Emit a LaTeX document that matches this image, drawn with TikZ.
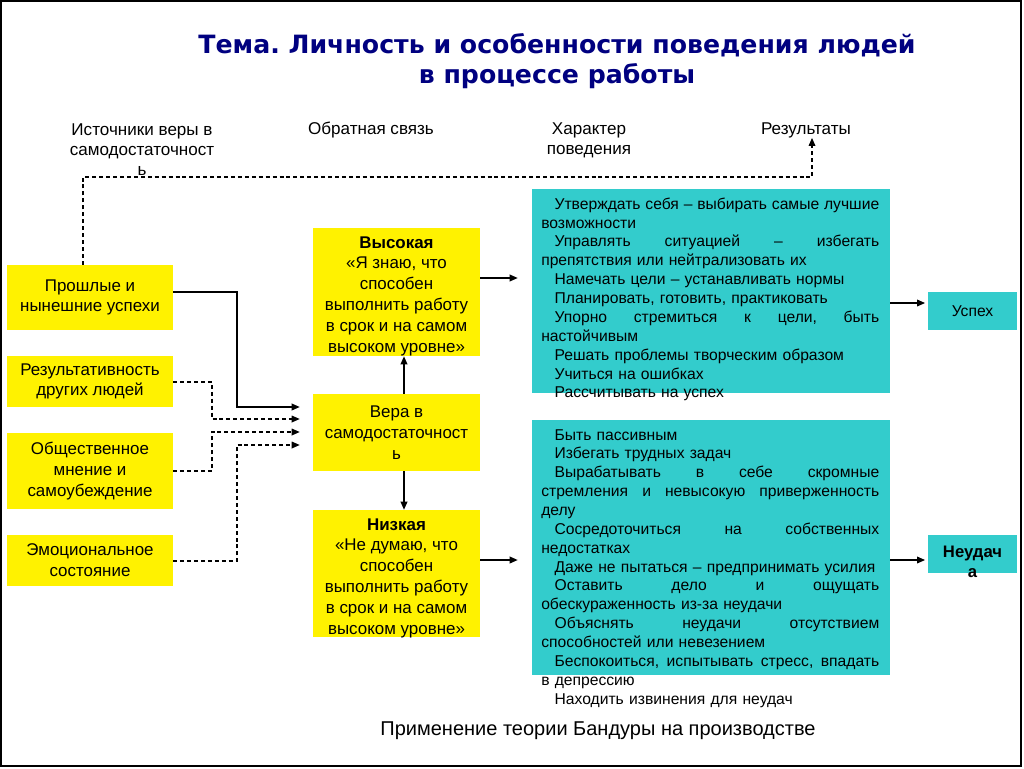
\documentclass[tikz,border=0pt]{standalone}
\usepackage{fontspec}
\setmainfont{Liberation Sans}
\newfontfamily\titlefont{DejaVu Sans}
\usetikzlibrary{arrows.meta,calc}
\definecolor{tealc}{RGB}{51,204,204}
\definecolor{navy}{RGB}{0,0,128}
\setlength\parindent{0pt}
\frenchspacing
\newlength\fw \setlength\fw{253.5pt}
\newlength\jw \setlength\jw{243.5pt}
\newcommand\jl[1]{\leavevmode\hspace*{10pt}\hbox to\jw{#1}}
\newcommand\jf[1]{\leavevmode\hbox to\fw{#1}}
\newcommand\il[1]{\leavevmode\hspace*{10pt}#1}
\begin{document}
\begin{tikzpicture}[x=0.75pt,y=-0.75pt,
  ybox/.style={fill=yellow, inner sep=0pt, align=center, font=\fontsize{12.7}{15.6}\selectfont},
  ytext/.style={inner sep=0pt, align=center, font=\fontsize{12.7}{15.6}\selectfont},
  tbox/.style={fill=tealc, inner sep=0pt, align=center, font=\fontsize{11.75}{15}\selectfont},
  ttext/.style={inner sep=0pt, text width=\fw, align=left, font=\fontsize{11.75}{14.15}\selectfont},
  arr/.style={-{Triangle[length=6pt,width=5pt]}, line width=1pt},
  dsh/.style={dash pattern=on 3pt off 2.2pt, line width=0.9pt},
  lbl/.style={align=center, font=\fontsize{12.8}{15}\selectfont, inner sep=0pt}]
\useasboundingbox (0,0) rectangle (1024,768);
\draw[line width=1.2pt] (1,1) rectangle (1021,766);

\node[font=\titlefont\bfseries\fontsize{18.9}{22.5}\selectfont, text=navy, align=center, inner sep=0pt] (title) at (557,61) {Тема. Личность и особенности поведения людей\\в процессе работы};

\node[lbl] (src) at (142,150) {Источники веры в\\самодостаточност\\ь};
\node[lbl] (fb) at (371,130) {Обратная связь};
\node[lbl] (beh) at (589,140) {Характер\\поведения};
\node[lbl] (res) at (806,130) {Результаты};

% left boxes
\node[ybox, minimum width=124.5pt, minimum height=48.75pt] (b1) at (90,297.5) {Прошлые и\\нынешние успехи};
\node[ybox, minimum width=124.5pt, minimum height=38.25pt] (b2) at (90,381.5) {Результативность\\других людей};
\node[ybox, minimum width=124.5pt, minimum height=57pt] (b3) at (90,471) {Общественное\\мнение и\\самоубеждение};
\node[ybox, minimum width=124.5pt, minimum height=38.25pt] (b4) at (90,560.5) {Эмоциональное\\состояние};

% center boxes
\node[ybox, minimum width=125.25pt, minimum height=96pt] (hi) at (396.5,292) {};
\node[ytext] (hitxt) at (396.5,296) {\textbf{Высокая}\\«Я знаю, что\\способен\\выполнить работу\\в срок и на самом\\высоком уровне»};
\node[ybox, minimum width=125.25pt, minimum height=57.75pt] (vera) at (396.5,432.5) {Вера в\\самодостаточност\\ь};
\node[ybox, minimum width=125.25pt, minimum height=95.25pt] (lo) at (396.5,573.5) {};
\node[ytext] (lotxt) at (396.5,578) {\textbf{Низкая}\\«Не думаю, что\\способен\\выполнить работу\\в срок и на самом\\высоком уровне»};

% teal boxes
\node[tbox, minimum width=268.5pt, minimum height=153pt] (t1) at (711,291) {};
\node[tbox, minimum width=268.5pt, minimum height=191.25pt] (t2) at (711,547.5) {};
\node[ttext, anchor=north west] (t1txt) at (541,197.5) {%
\jl{Утверждать\hfill себя\hfill –\hfill выбирать\hfill самые\hfill лучшие}\\
возможности\\
\jl{Управлять\hfill ситуацией\hfill –\hfill избегать}\\
препятствия или нейтрализовать их\\
\il{Намечать цели – устанавливать нормы}\\
\il{Планировать, готовить, практиковать}\\
\jl{Упорно\hfill стремиться\hfill к\hfill цели,\hfill быть}\\
настойчивым\\
\il{Решать проблемы творческим образом}\\
\il{Учиться на ошибках}\\
\il{Рассчитывать на успех}};
\node[ttext, anchor=north west] (t2txt) at (541,429) {%
\il{Быть пассивным}\\
\il{Избегать трудных задач}\\
\jl{Вырабатывать\hfill в\hfill себе\hfill скромные}\\
\jf{стремления\hfill и\hfill невысокую\hfill приверженность}\\
делу\\
\jl{Сосредоточиться\hfill на\hfill собственных}\\
недостатках\\
\il{Даже не пытаться – предпринимать усилия}\\
\jl{Оставить\hfill дело\hfill и\hfill ощущать}\\
обескураженность из-за неудачи\\
\jl{Объяснять\hfill неудачи\hfill отсутствием}\\
способностей или невезением\\
\jl{Беспокоиться,\hfill испытывать\hfill стресс,\hfill впадать}\\
в депрессию\\
\il{Находить извинения для неудач}};

\node[tbox, minimum width=66.75pt, minimum height=28.5pt] (succ) at (972.5,311) {Успех};
\node[tbox, minimum width=66.75pt, minimum height=28.5pt] (fail) at (972.5,554) {};
\node[font=\bfseries\fontsize{12.5}{15}\selectfont, anchor=north, align=center, inner sep=0pt] (failtxt) at (972.5,546) {Неудач\\а};

\node[font=\fontsize{15}{17}\selectfont, inner sep=0pt] (cap) at (598,731) {Применение теории Бандуры на производстве};

% feedback dashed line
\coordinate (d1) at (83,177);
\coordinate (d2) at (812,177);
\draw[dsh, -{Triangle[length=6pt,width=5pt]}] (b1.north -| d1) -- (d1) -- (d2) -- (res.south -| d2);

% left connectors
\coordinate (s1) at (237,292); \coordinate (s1b) at (237,407);
\draw[arr, shorten >=9.75pt] (b1.east |- s1) -- (s1) -- (s1b) -- (vera.west |- s1b);
\coordinate (s2) at (212,382); \coordinate (s2b) at (212,419);
\draw[arr, dsh, shorten >=9.75pt] (b2.east |- s2) -- (s2) -- (s2b) -- (vera.west |- s2b);
\coordinate (s3) at (212,471); \coordinate (s3b) at (212,432);
\draw[arr, dsh, shorten >=9.75pt] (b3.east |- s3) -- (s3) -- (s3b) -- (vera.west |- s3b);
\coordinate (s4) at (237,561); \coordinate (s4b) at (237,445);
\draw[arr, dsh, shorten >=9.75pt] (b4.east |- s4) -- (s4) -- (s4b) -- (vera.west |- s4b);

% center arrows
\coordinate (av) at (404,0);
\draw[arr] (vera.north -| av) -- (hi.south -| av);
\draw[arr] (vera.south -| av) -- (lo.north -| av);
\coordinate (ah) at (480,278);
\draw[arr, shorten >=10.5pt] (hi.east |- ah) -- (t1.west |- ah);
\coordinate (al) at (480,560);
\draw[arr, shorten >=10.5pt] (lo.east |- al) -- (t2.west |- al);
\coordinate (as) at (890,303);
\draw[arr, shorten >=2pt] (t1.east |- as) -- (succ.west |- as);
\coordinate (af) at (890,560);
\draw[arr, shorten >=2pt] (t2.east |- af) -- (fail.west |- af);
\end{tikzpicture}
\end{document}
